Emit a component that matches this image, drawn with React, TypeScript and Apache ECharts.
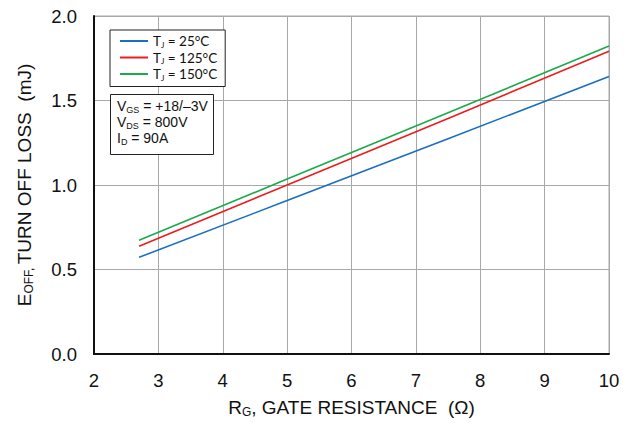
import React, { useEffect, useRef } from "react";
import * as echarts from "echarts";

const rg = [2.7, 5, 7.5, 10];
const eoff25 = [0.572, 0.908, 1.274, 1.642];
const eoff125 = [0.638, 1.0, 1.394, 1.792];
const eoff150 = [0.673, 1.035, 1.428, 1.822];
const seriesNames = ["Tj25", "Tj125", "Tj150"];
const legendLabels = ["{a|T}{s|J}{a| = 25°C}", "{a|T}{s|J}{a| = 125°C}", "{a|T}{s|J}{a| = 150°C}"];
const colors = ["#1a6fc0", "#ee1c1c", "#1aaa4a"];
const xTicks = [2, 3, 4, 5, 6, 7, 8, 9, 10];
const yTicks = [0, 0.5, 1.0, 1.5, 2.0];

const FONT = "Liberation Sans";
const LFONT = "Lato";

export default function App() {
  const ref = useRef<HTMLDivElement>(null);
  useEffect(() => {
    if (!ref.current) return;
    const chart = echarts.init(ref.current, undefined, { renderer: "svg" });
    const data = [eoff25, eoff125, eoff150];
    chart.setOption({
      animation: false,
      backgroundColor: "#ffffff",
      textStyle: { fontFamily: FONT },
      grid: {
        left: 94,
        top: 16,
        width: 515,
        height: 342,
        show: true,
        borderColor: "#a8a8a8",
        borderWidth: 1,
      },
      legend: {
        orient: "vertical",
        left: 110,
        top: 30,
        padding: [4, 8, 5, 10],
        itemGap: 2,
        itemWidth: 28,
        itemHeight: 2,
        icon: "rect",
        borderColor: "#222",
        borderWidth: 1,
        backgroundColor: "#fff",
        data: seriesNames,
        formatter: (n: string) => legendLabels[seriesNames.indexOf(n)],
        textStyle: {
          fontFamily: LFONT,
          rich: {
            a: { fontSize: 13.5, color: "#111", fontFamily: LFONT, lineHeight: 15 },
            s: { fontSize: 8, color: "#111", fontFamily: LFONT, verticalAlign: "bottom", lineHeight: 11 },
          },
        },
      },
      xAxis: {
        type: "value",
        min: 2,
        max: 10,
        interval: 1,
        axisLine: { show: true, onZero: false, lineStyle: { color: "#111", width: 2 } },
        axisTick: { show: false },
        splitLine: { show: true, lineStyle: { color: "#a8a8a8", width: 1 } },
        axisLabel: {
          color: "#111",
          fontSize: 18.5,
          margin: 17,
          fontFamily: FONT,
          formatter: (v: number) => (xTicks.includes(v) ? String(v) : ""),
        },
        name: "{a|R}{s|G}{a|, GATE RESISTANCE  (Ω)}",
        nameLocation: "middle",
        nameGap: 42,
        nameTextStyle: {
          rich: {
            a: { fontSize: 19, color: "#111", fontFamily: FONT, lineHeight: 22 },
            s: { fontSize: 12, color: "#111", fontFamily: FONT, verticalAlign: "bottom", lineHeight: 15 },
          },
        },
      },
      yAxis: {
        type: "value",
        min: 0,
        max: 2,
        interval: 0.5,
        axisLine: { show: true, onZero: false, lineStyle: { color: "#111", width: 2 } },
        axisTick: { show: false },
        splitLine: { show: true, lineStyle: { color: "#a8a8a8", width: 1 } },
        axisLabel: {
          color: "#111",
          fontSize: 18.5,
          margin: 17,
          fontFamily: FONT,
          formatter: (v: number) => (yTicks.some((t) => Math.abs(t - v) < 1e-9) ? v.toFixed(1) : ""),
        },
        name: "{a|E}{s|OFF, }{a|TURN OFF LOSS  (mJ)}",
        nameLocation: "middle",
        nameGap: 59,
        nameTextStyle: {
          rich: {
            a: { fontSize: 19, color: "#111", fontFamily: FONT, lineHeight: 22 },
            s: { fontSize: 12, color: "#111", fontFamily: FONT, verticalAlign: "bottom", lineHeight: 15 },
          },
        },
      },
      series: seriesNames.map((n, i) => ({
        name: n,
        type: "line",
        symbol: "none",
        color: colors[i],
        lineStyle: { color: colors[i], width: 1.6 },
        data: rg.map((x, j) => [x, data[i][j]]),
      })),
      graphic: [
        {
          type: "rect",
          left: 110,
          top: 94,
          shape: { width: 103, height: 60 },
          style: { fill: "#fff", stroke: "#222", lineWidth: 1 },
          z: 10,
        },
        {
          type: "text",
          left: 117,
          top: 99,
          z: 11,
          style: {
            text: "{a|V}{s|GS}{a| = +18/–3V}\n{a|V}{s|DS}{a| = 800V}\n{a|I}{s|D}{a| = 90A}",
            fill: "#111",
            rich: {
              a: { fontSize: 14, fill: "#111", fontFamily: FONT, lineHeight: 16 },
              s: { fontSize: 9, fill: "#111", fontFamily: FONT, verticalAlign: "bottom", lineHeight: 12 },
            },
          },
        },
      ],
    });
    return () => chart.dispose();
  }, []);
  return (
    <div
      ref={ref}
      style={{ position: "fixed", left: 0, top: 0, width: 632, height: 423 }}
    />
  );
}
